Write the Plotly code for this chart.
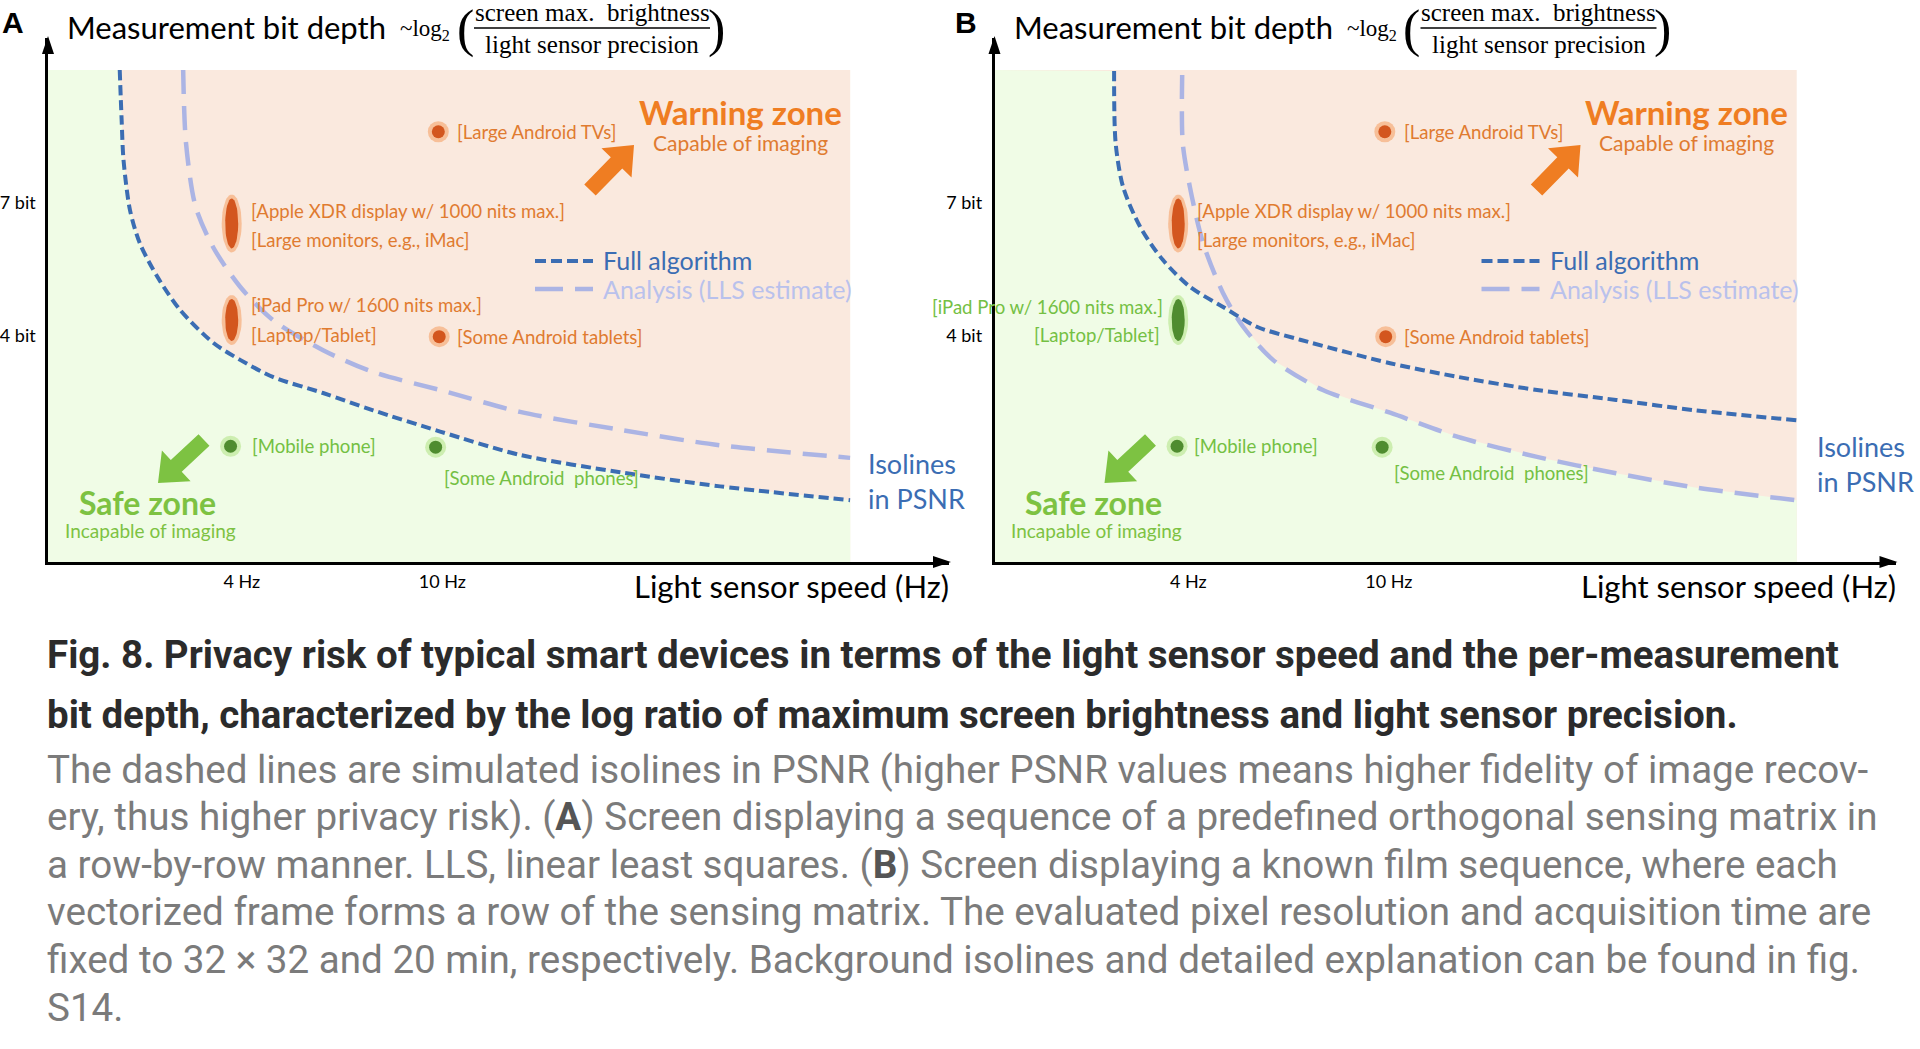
import math
import plotly.graph_objects as go

W, H = 1920, 1049

# ---------------- data ----------------
X_RANGE = [1.65, 101.3]          # light sensor speed (Hz), axis extent
Y_RANGE = [1.542, 13.99]         # measurement bit depth, axis extent
X_TICKS = [4, 10]
X_TICK_TEXT = ["4 Hz", "10 Hz"]
Y_TICKS = [4, 7]
Y_TICK_TEXT = ["4 bit", "7 bit"]
ZONE_X_MAX = 64.5
ZONE_Y_MAX = 12.23

# Panel A isolines in PSNR
A_FULL_X = [2.29, 2.31, 2.33, 2.40, 2.51, 2.72, 3.02, 3.51, 3.97, 4.61, 5.80, 7.29, 9.90, 14.27, 22.53, 35.59, 64.46]
A_FULL_Y = [12.23, 9.91, 8.37, 6.78, 5.90, 5.12, 4.45, 3.88, 3.61, 3.36, 3.14, 2.92, 2.67, 2.42, 2.25, 2.12, 2.00]
A_LLS_X = [3.06, 3.10, 3.24, 3.51, 3.97, 4.61, 5.80, 7.29, 9.90, 14.27, 22.53, 35.59, 64.46]
A_LLS_Y = [12.23, 8.99, 6.87, 5.80, 4.91, 4.27, 3.76, 3.43, 3.18, 2.90, 2.69, 2.52, 2.39]
A_SAFE_X = A_FULL_X
A_SAFE_Y = A_FULL_Y

# Panel B isolines in PSNR
B_FULL_X = [2.85, 2.87, 2.97, 3.21, 3.56, 4.03, 4.69, 5.47, 6.67, 10.06, 13.72, 19.69, 28.25, 40.53, 64.5]
B_FULL_Y = [12.17, 8.99, 7.47, 6.32, 5.50, 4.91, 4.51, 4.15, 3.93, 3.56, 3.36, 3.18, 3.05, 2.92, 2.80]
B_LLS_X = [3.89, 3.90, 4.03, 4.28, 4.69, 5.14, 5.89, 7.40, 10.06, 13.72, 19.69, 28.25, 40.53, 64.31]
B_LLS_Y = [11.97, 8.99, 7.47, 5.90, 4.78, 4.15, 3.61, 3.18, 2.89, 2.61, 2.40, 2.24, 2.11, 2.00]
B_SAFE_X = [2.85, 2.87, 2.97, 3.21, 3.56, 4.03, 4.69, 4.89, 5.14, 5.89, 7.40, 10.06, 13.72, 19.69, 28.25, 40.53, 64.31]
B_SAFE_Y = [12.17, 8.99, 7.47, 6.32, 5.50, 4.91, 4.51, 4.44, 4.15, 3.61, 3.18, 2.89, 2.61, 2.40, 2.24, 2.11, 2.00]

# Devices
DEVICE_X = [9.82, 3.82, 3.82, 9.86, 3.80, 9.70]
DEVICE_Y = [9.43, 6.41, 4.27, 3.98, 2.51, 2.50]
DEVICE_RANGE = [False, True, True, False, False, False]
DEVICE_LABELS = [
    ["[Large Android TVs]"],
    ["[Apple XDR display w/ 1000 nits max.]", "[Large monitors, e.g., iMac]"],
    ["[iPad Pro w/ 1600 nits max.]", "[Laptop/Tablet]"],
    ["[Some Android tablets]"],
    ["[Mobile phone]"],
    ["[Some Android\u00a0 phones]"],
]
ZONES_A = ["warn", "warn", "warn", "warn", "safe", "safe"]
ZONES_B = ["warn", "warn", "safe", "warn", "safe", "safe"]

CAPTION_BOLD = [
    "Fig. 8. Privacy risk of typical smart devices in terms of the light sensor speed and the per-measurement",
    "bit depth, characterized by the log ratio of maximum screen brightness and light sensor precision.",
]
CAPTION_BODY = [
    "The dashed lines are simulated isolines in PSNR (higher PSNR values means higher fidelity of image recov-",
    "ery, thus higher privacy risk). (<b><span style='color:#555555'>A</span></b>) Screen displaying a sequence of a predefined orthogonal sensing matrix in",
    "a row-by-row manner. LLS, linear least squares. (<b><span style='color:#555555'>B</span></b>) Screen displaying a known film sequence, where each",
    "vectorized frame forms a row of the sensing matrix. The evaluated pixel resolution and acquisition time are",
    "fixed to 32 × 32 and 20 min, respectively. Background isolines and detailed explanation can be found in fig.",
    "S14.",
]

# ---------------- styles ----------------
FONT = "Lato"
SERIF = "Liberation Serif"
PEACH = "#fae9de"
GREEN_BG = "#f0fce6"
BLUE = "#3b6db3"
LAVENDER = "#abb4e4"
ORANGE_TXT = "#e07b30"
ORANGE = "#ef7d22"
GREEN_TXT = "#74c043"
GREEN = "#7dc242"
DOT = {"warn": ("#f7bf98", "#d3561e"), "safe": ("#cdeeb0", "#4f8c2f")}
LABEL_COL = {"warn": ORANGE_TXT, "safe": GREEN_TXT}

XDOM_A = [48 / W, 949 / W]
XDOM_B = [994.5 / W, 1895.5 / W]
YDOM = [1 - 562 / H, 1 - 38 / H]
xr_log = [math.log10(X_RANGE[0]), math.log10(X_RANGE[1])]
yr_log = [math.log10(Y_RANGE[0]), math.log10(Y_RANGE[1])]
PX_PER_XDEC = (XDOM_A[1] - XDOM_A[0]) * W / (xr_log[1] - xr_log[0])
PX_PER_YDEC = (YDOM[1] - YDOM[0]) * H / (yr_log[1] - yr_log[0])


def px(x):
    return x / W


def py(y):
    return 1 - y / H


fig = go.Figure()
annotations = []
shapes = []


def txt(x, y, s, size, color, family=FONT, xanchor="left", yanchor="middle", align="left"):
    annotations.append(dict(x=px(x), y=py(y), xref="paper", yref="paper", text=s, showarrow=False,
                            xanchor=xanchor, yanchor=yanchor, align=align,
                            font=dict(family=family, size=size, color=color)))


def block_arrow(tip, tail, color, shaft=16, head=42, hlen=25):
    (tx, ty), (sx, sy) = tip, tail
    L = math.hypot(tx - sx, ty - sy)
    ux, uy = (tx - sx) / L, (ty - sy) / L
    nx, ny = -uy, ux
    bx, by = tx - ux * hlen, ty - uy * hlen
    pts = [(sx + nx * shaft / 2, sy + ny * shaft / 2), (bx + nx * shaft / 2, by + ny * shaft / 2),
           (bx + nx * head / 2, by + ny * head / 2), (tx, ty),
           (bx - nx * head / 2, by - ny * head / 2), (bx - nx * shaft / 2, by - ny * shaft / 2),
           (sx - nx * shaft / 2, sy - ny * shaft / 2)]
    path = "M " + " L ".join(f"{px(a):.5f},{py(b):.5f}" for a, b in pts) + " Z"
    shapes.append(dict(type="path", xref="paper", yref="paper", path=path, fillcolor=color, line=dict(width=0)))


def tri(pts):
    path = "M " + " L ".join(f"{px(a):.5f},{py(b):.5f}" for a, b in pts) + " Z"
    shapes.append(dict(type="path", xref="paper", yref="paper", path=path, fillcolor="black", line=dict(width=0)))


def ellipse_outline(cx, cy, w, h, n=48):
    lx, ly = math.log10(cx), math.log10(cy)
    xs, ys = [], []
    for k in range(n + 1):
        t = 2 * math.pi * k / n
        xs.append(10 ** (lx + (w / 2) * math.cos(t) / PX_PER_XDEC))
        ys.append(10 ** (ly + (h / 2) * math.sin(t) / PX_PER_YDEC))
    return xs, ys


LABEL_OFFSETS_A = [[(17, 0, "left")], [(17, 12, "left"), (17, -17, "left")], [(17, 15, "left"), (17, -15, "left")],
                   [(16, 0, "left")], [(19, 0, "left")], [(6, -31, "left")]]
LABEL_OFFSETS_B = [[(17, 0, "left")], [(17, 12, "left"), (17, -17, "left")], [(-13, 13, "right"), (-16, -15, "right")],
                   [(16, 0, "left")], [(15, 0, "left")], [(10, -26, "left")]]
ELLIPSE = {1: ((20, 58), (13, 50)), 2: ((20, 50), (13, 42))}


def panel(k, full_x, full_y, lls_x, lls_y, safe_x, safe_y, zones, offsets, left):
    xr = "x" if k == 0 else "x2"
    yr = "y" if k == 0 else "y2"
    shapes.append(dict(type="rect", xref=xr, yref=yr, x0=X_RANGE[0], x1=ZONE_X_MAX, y0=Y_RANGE[0], y1=ZONE_Y_MAX,
                       fillcolor=PEACH, line=dict(width=0), layer="below"))
    gx = [X_RANGE[0], X_RANGE[0]] + safe_x + [ZONE_X_MAX, ZONE_X_MAX]
    gy = [Y_RANGE[0], ZONE_Y_MAX] + safe_y + [safe_y[-1], Y_RANGE[0]]
    fig.add_trace(go.Scatter(x=gx, y=gy, xaxis=xr, yaxis=yr, mode="lines", fill="toself", fillcolor=GREEN_BG,
                             line=dict(width=0), hoverinfo="skip", showlegend=False))
    fig.add_trace(go.Scatter(x=lls_x, y=lls_y, xaxis=xr, yaxis=yr, mode="lines",
                             line=dict(color=LAVENDER, width=4.5, dash="24px,12px", shape="spline", smoothing=0.8),
                             hoverinfo="skip", showlegend=False))
    fig.add_trace(go.Scatter(x=full_x, y=full_y, xaxis=xr, yaxis=yr, mode="lines",
                             line=dict(color=BLUE, width=4, dash="10px,5px", shape="spline", smoothing=0.8),
                             hoverinfo="skip", showlegend=False))
    # devices
    dx = [DEVICE_X[i] for i in range(6) if not DEVICE_RANGE[i]]
    dy = [DEVICE_Y[i] for i in range(6) if not DEVICE_RANGE[i]]
    dz = [zones[i] for i in range(6) if not DEVICE_RANGE[i]]
    fig.add_trace(go.Scatter(x=dx, y=dy, xaxis=xr, yaxis=yr, mode="markers",
                             marker=dict(size=21, color=[DOT[z][0] for z in dz], line=dict(width=0)),
                             hoverinfo="skip", showlegend=False))
    fig.add_trace(go.Scatter(x=dx, y=dy, xaxis=xr, yaxis=yr, mode="markers",
                             marker=dict(size=13, color=[DOT[z][1] for z in dz], line=dict(width=0)),
                             hoverinfo="skip", showlegend=False))
    for i, (outer, inner) in ELLIPSE.items():
        for (ew, eh), col in ((outer, DOT[zones[i]][0]), (inner, DOT[zones[i]][1])):
            ex, ey = ellipse_outline(DEVICE_X[i], DEVICE_Y[i], ew, eh)
            fig.add_trace(go.Scatter(x=ex, y=ey, xaxis=xr, yaxis=yr, mode="lines", fill="toself", fillcolor=col,
                                     line=dict(width=0), hoverinfo="skip", showlegend=False))
    for i in range(6):
        for line, (xs, ys, xa) in zip(DEVICE_LABELS[i], offsets[i]):
            annotations.append(dict(x=math.log10(DEVICE_X[i]), y=math.log10(DEVICE_Y[i]), xref=xr, yref=yr,
                                    text=line, showarrow=False, xanchor=xa, yanchor="middle", xshift=xs, yshift=ys,
                                    font=dict(family=FONT, size=18.6, color=LABEL_COL[zones[i]])))
    o = left - 48
    # titles
    txt(65 + o, 27, "Measurement bit depth", 31, "black")
    txt(398 + o, 30, "~log<sub>2</sub>", 23, "black", family=SERIF)
    txt(465 + o, 29, "(", 52, "black", family=SERIF, xanchor="center")
    txt(716 + o, 29, ")", 52, "black", family=SERIF, xanchor="center")
    txt(592 + o, 13, "screen max.  brightness", 25, "black", family=SERIF, xanchor="center")
    txt(592 + o, 44, "light sensor precision", 25, "black", family=SERIF, xanchor="center")
    shapes.append(dict(type="line", xref="paper", yref="paper", x0=px(474 + o), x1=px(710 + o), y0=py(28), y1=py(28),
                       line=dict(color="black", width=1.5)))
    txt(951 + o, 586, "Light sensor speed (Hz)", 31, "black", xanchor="right")
    # zones
    txt(740 + o, 112, "<b>Warning zone</b>", 33, ORANGE, xanchor="center")
    txt(740 + o, 143, "Capable of imaging", 21, ORANGE_TXT, xanchor="center")
    txt(147 + o, 502, "<b>Safe zone</b>", 32, GREEN, xanchor="center")
    txt(150 + o, 530, "Incapable of imaging", 19, GREEN, xanchor="center")
    block_arrow((634 + o, 145), (590 + o, 190), ORANGE)
    block_arrow((158 + o, 483), (204 + o, 440), GREEN)
    # legend
    shapes.append(dict(type="line", xref="paper", yref="paper", x0=px(535 + o), x1=px(593 + o), y0=py(261), y1=py(261),
                       line=dict(color=BLUE, width=4, dash="11px,5px")))
    shapes.append(dict(type="line", xref="paper", yref="paper", x0=px(535 + o), x1=px(593 + o), y0=py(289), y1=py(289),
                       line=dict(color=LAVENDER, width=4.5, dash="28px,12px")))
    txt(601 + o, 260, "Full algorithm", 25, BLUE)
    txt(601 + o, 289, "Analysis (LLS estimate)", 25, "#b9c1ec")
    # axis arrowheads
    tri([(left - 6, 54), (left + 6, 54), (left, 36)])
    tri([(left + 885, 556), (left + 885, 568), (left + 903, 562)])


panel(0, A_FULL_X, A_FULL_Y, A_LLS_X, A_LLS_Y, A_SAFE_X, A_SAFE_Y, ZONES_A, LABEL_OFFSETS_A, 48)
panel(1, B_FULL_X, B_FULL_Y, B_LLS_X, B_LLS_Y, B_SAFE_X, B_SAFE_Y, ZONES_B, LABEL_OFFSETS_B, 994.5)

txt(866, 481, "Isolines<br>in PSNR", 27, BLUE)
txt(1815, 464, "Isolines<br>in PSNR", 27, BLUE)
txt(13, 22, "<b>A</b>", 30, "black", family="Liberation Sans", xanchor="center")
txt(966, 22, "<b>B</b>", 30, "black", family="Liberation Sans", xanchor="center")

for j, line in enumerate(CAPTION_BOLD):
    txt(45, 654 + 60 * j, "<b>" + line + "</b>", 38.5, "#2b2b2b", family="Roboto")
for j, line in enumerate(CAPTION_BODY):
    txt(45, 769 + 47.6 * j, line, 38.6, "#7b7b7b", family="Roboto")

axis_common = dict(type="log", showgrid=False, zeroline=False, showline=True, linecolor="black", linewidth=2.5,
                   tickmode="array", ticks="outside", tickcolor="rgba(0,0,0,0)", fixedrange=True,
                   tickfont=dict(family=FONT, size=18, color="black"))

fig.update_layout(
    width=W, height=H, margin=dict(l=0, r=0, t=0, b=0),
    paper_bgcolor="white", plot_bgcolor="white", showlegend=False,
    xaxis=dict(axis_common, domain=XDOM_A, range=xr_log, tickvals=X_TICKS, ticktext=X_TICK_TEXT, ticklen=2, anchor="y"),
    yaxis=dict(axis_common, domain=YDOM, range=yr_log, tickvals=Y_TICKS, ticktext=Y_TICK_TEXT, ticklen=6, anchor="x"),
    xaxis2=dict(axis_common, domain=XDOM_B, range=xr_log, tickvals=X_TICKS, ticktext=X_TICK_TEXT, ticklen=2, anchor="y2"),
    yaxis2=dict(axis_common, domain=YDOM, range=yr_log, tickvals=Y_TICKS, ticktext=Y_TICK_TEXT, ticklen=6, anchor="x2"),
    annotations=annotations, shapes=shapes,
)

fig.write_html("out.html", config={"displayModeBar": False})
